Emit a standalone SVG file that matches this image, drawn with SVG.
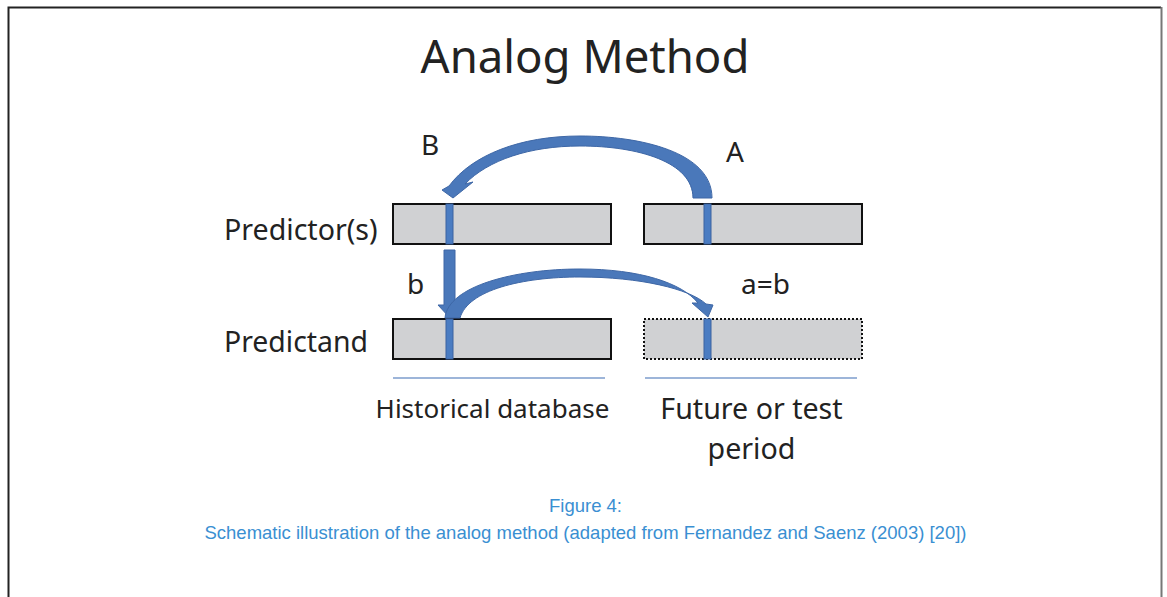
<svg xmlns="http://www.w3.org/2000/svg" width="1167" height="597" viewBox="0 0 1167 597">
  <style>
    .lbl { font-family: "Noto Sans", "Open Sans", sans-serif; fill: #222222; }
    .cap { font-family: "Liberation Sans", Arial, sans-serif; fill: #3a8fd2; font-size: 18.5px; }
    .bar { fill: #d0d1d3; stroke: #111111; stroke-width: 2; }
    .bar-future { fill: #d0d1d3; stroke: #111111; stroke-width: 2; stroke-dasharray: 2 2; }
    .mark { fill: #4a7cc2; stroke: #3a62a0; stroke-width: 1; }
    .arrow { fill: #4a78ba; stroke: #3e67a6; stroke-width: 1; }
    .rule { stroke: #7c9ccc; stroke-width: 1.5; }
  </style>
  <defs>
    <linearGradient id="arcFill" x1="1" y1="0" x2="0" y2="0">
      <stop offset="0" stop-color="#3f67a3"/>
      <stop offset="1" stop-color="#4b7dc0"/>
    </linearGradient>
  </defs>

  <rect width="1167" height="597" fill="#ffffff"/>
  <!-- page frame -->
  <path d="M8.5,597 V7.5 H1161" fill="none" stroke="#222222" stroke-width="2"/>
  <line x1="1161.5" y1="7" x2="1161.5" y2="597" stroke="#777777" stroke-width="2"/>

  <text class="lbl" x="585" y="73" font-size="45.5" text-anchor="middle">Analog Method</text>

  <!-- row labels -->
  <g id="label-predictors"><text class="lbl" x="224" y="240" font-size="28.6">Predictor(s)</text></g>
  <g id="label-predictand"><text class="lbl" x="224" y="352" font-size="28.4">Predictand</text></g>

  <!-- historical predictor series -->
  <g id="hist-predictor">
    <rect class="bar" x="393" y="204" width="218" height="40"/>
    <rect class="mark" x="446" y="204" width="7" height="40"/>
  </g>
  <!-- future predictor series -->
  <g id="future-predictor">
    <rect class="bar" x="644" y="204" width="218" height="40"/>
    <rect class="mark" x="704" y="204" width="7" height="40"/>
  </g>
  <!-- historical predictand series -->
  <g id="hist-predictand">
    <rect class="bar" x="393" y="319" width="218" height="40"/>
    <rect class="mark" x="446" y="319" width="7" height="40"/>
  </g>
  <!-- future predictand series (unknown) -->
  <g id="future-predictand">
    <rect class="bar-future" x="644" y="319" width="218" height="40"/>
    <rect class="mark" x="704" y="319" width="7" height="40"/>
  </g>

  <!-- connectors -->
  <g id="connectors">
    <!-- A to B: search for analog in historical predictors -->
    <path class="arrow" fill="url(#arcFill)" d="M712,198 C712,152 640,136 580,136 C520,136 472,155 449,186 L442,190 L453,198 L473,182 L465,184 C488,160 530,146 580,146 C638,146 693,162 693,198 Z"/>
    <!-- B to b: take matching predictand -->
    <path class="arrow" d="M444,250 H455 V305 H461 L450,318 L438,305 H444 Z"/>
    <!-- b to a: assign as forecast -->
    <path class="arrow" d="M445,318 C448,286 515,269 580,269 C640,269 682,283 698,303 L692,303 L708,317 L713,305 L706,304 C690,289 640,277 580,277 C522,277 468,290 460,318 Z"/>
  </g>

  <text class="lbl" x="421" y="155" font-size="28">B</text>
  <text class="lbl" x="726" y="162" font-size="28">A</text>
  <text class="lbl" x="407" y="294" font-size="28">b</text>
  <text class="lbl" x="741" y="294" font-size="28">a=b</text>

  <!-- period labels -->
  <line class="rule" x1="393" y1="378" x2="605" y2="378"/>
  <line class="rule" x1="645" y1="378" x2="857" y2="378"/>
  <text class="lbl" x="492.5" y="418" font-size="26" text-anchor="middle">Historical database</text>
  <text class="lbl" x="751.5" y="419" font-size="28.6" text-anchor="middle">Future or test</text>
  <text class="lbl" x="751.5" y="459" font-size="28.6" text-anchor="middle">period</text>

  <text class="cap" x="585.5" y="512" text-anchor="middle">Figure 4:</text>
  <text class="cap" x="585.5" y="539" text-anchor="middle">Schematic illustration of the analog method (adapted from Fernandez and Saenz (2003) [20])</text>
</svg>
